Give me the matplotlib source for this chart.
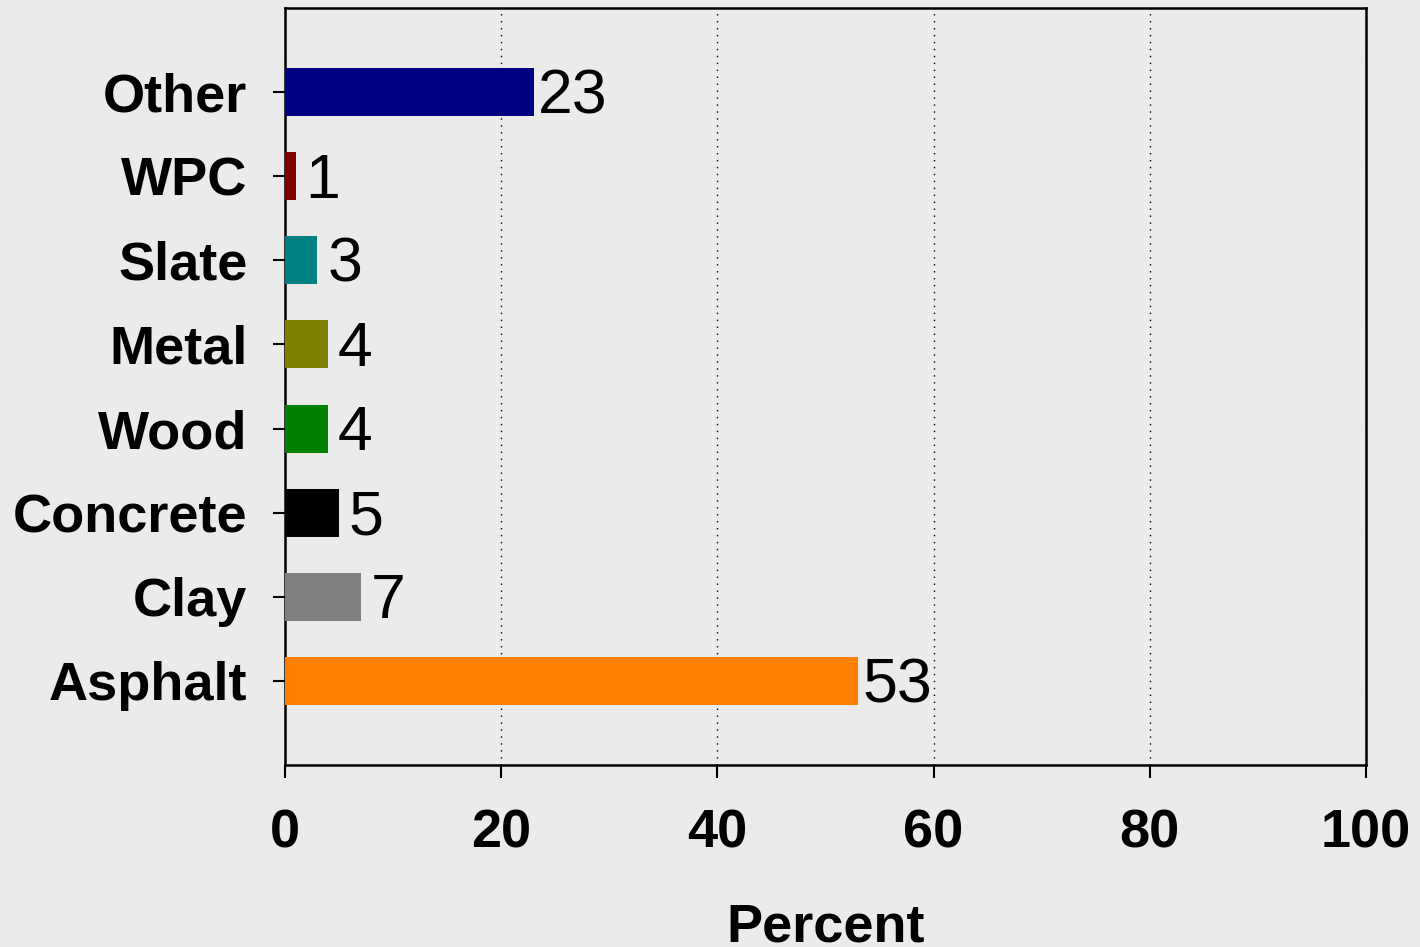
import matplotlib.pyplot as plt

# Datos
categories = ["Asphalt", "Clay", "Concrete", "Wood", "Metal", "Slate", "WPC", "Other"]
values = [53, 7, 5, 4, 4, 3, 1, 23]
colors = ["#ff8000", "#808080", "#000000", "#008000", "#808000", "#008080", "#800000", "#000080"]
xticks = [0, 20, 40, 60, 80, 100]

bg = "#ebebeb"
plt.rcParams['font.family'] = ['Liberation Sans', 'DejaVu Sans']

fig = plt.figure(figsize=(14.2, 9.47), dpi=100, facecolor=bg)
ax = fig.add_axes([0.2007, 0.1922, 0.7613, 0.7994], facecolor=bg)

pos = range(len(categories))
ax.barh(pos, values, height=0.57, color=colors, zorder=3)

# Etiquetas de valor (las de una cifra van un poco más separadas)
for y, v in zip(pos, values):
    gap = 0.9 if v < 10 else 0.4
    ax.text(v + gap, y - 0.06, str(v), va="center", ha="left", fontsize=45, zorder=4)

ax.set_xlim(0, 100)
ax.set_ylim(-1, 8)
ax.set_xticks(xticks)
ax.set_yticks(list(pos))
ax.set_yticklabels(categories)

ax.tick_params(axis="x", direction="out", length=9, width=1.5, pad=22, labelsize=39)
ax.tick_params(axis="y", direction="out", length=9, width=1.5, pad=18, labelsize=39)
for lab in ax.get_xticklabels() + ax.get_yticklabels():
    lab.set_fontweight("bold")

for s in ax.spines.values():
    s.set_linewidth(1.8)
    s.set_color("black")

ax.xaxis.grid(True, linestyle=(0, (1, 4)), color="black", linewidth=1, zorder=0)
ax.set_xlabel("Percent", fontsize=39, fontweight="bold", labelpad=32)

fig.savefig("out.png", dpi=100, facecolor=bg)
